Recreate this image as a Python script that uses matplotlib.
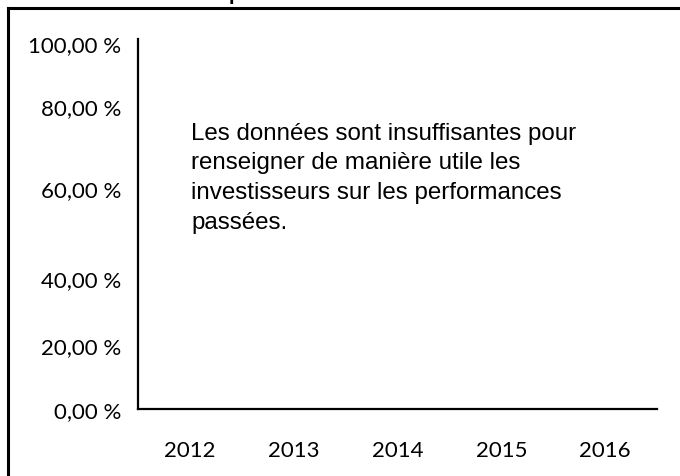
import numpy as np
import matplotlib
matplotlib.use("Agg")
import matplotlib.pyplot as plt
from matplotlib.lines import Line2D

# data (chart has no values: not enough history)
years = ["2012", "2013", "2014", "2015", "2016"]
returns = [np.nan, np.nan, np.nan, np.nan, np.nan]
y_labels = ["0,00 %", "20,00 %", "40,00 %", "60,00 %", "80,00 %", "100,00 %"]
y_label_pos = [-1.5, 16, 34.5, 59, 81.5, 99]
message = ("Les données sont insuffisantes pour\n"
           "renseigner de manière utile les\n"
           "investisseurs sur les performances\n"
           "passées.")

W, H = 680, 477
fig = plt.figure(figsize=(W / 100, H / 100), dpi=100)
ax = fig.add_axes([138 / W, (H - 410) / H, (657 - 138) / W, (410 - 40) / H])

ax.bar(np.arange(len(years)), returns, color="#1f4e79")
ax.set_xlim(-0.5, len(years) - 0.5)
ax.set_ylim(0, 100)

ax.set_xticks(np.arange(len(years)))
ax.set_xticklabels(years, fontsize=16, family="Lato")
ax.set_yticks(y_label_pos)
ax.set_yticklabels(y_labels, fontsize=16, family="Lato")
ax.tick_params(length=0, pad=22, axis="x")
ax.tick_params(length=0, pad=12, axis="y")

for side in ["top", "right"]:
    ax.spines[side].set_visible(False)
for side in ["left", "bottom"]:
    ax.spines[side].set_linewidth(1.6)

ax.text(0.102, 0.777, message, transform=ax.transAxes, va="top", ha="left",
        fontsize=17.4, family="Liberation Sans", linespacing=1.47)

# outer frame of the chart area (top and left only visible)
fig.add_artist(Line2D([8 / W, 1], [1 - 9 / H, 1 - 9 / H], color="black", lw=2.2,
                      transform=fig.transFigure))
fig.add_artist(Line2D([8 / W, 8 / W], [0, 1 - 9 / H], color="black", lw=2.2,
                      transform=fig.transFigure))

# cut-off title above the frame
fig.text(229 / W, 1.0, "p", fontsize=16, weight="bold", family="Lato", va="baseline")

fig.savefig("out.png", dpi=100)
